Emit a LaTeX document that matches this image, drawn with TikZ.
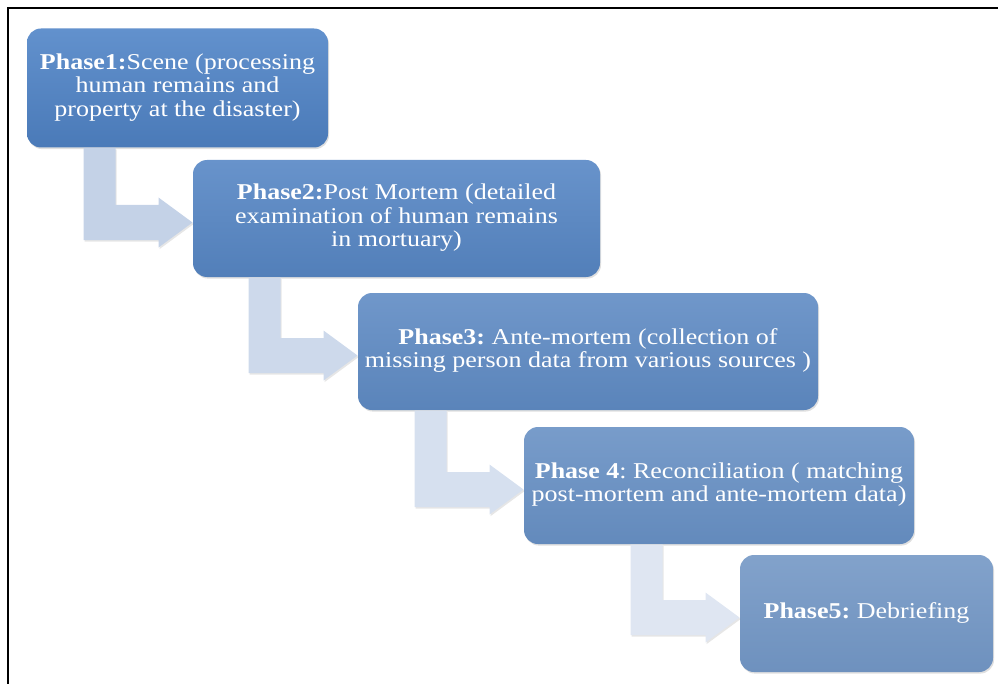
\documentclass[tikz,border=0pt]{standalone}
\usepackage{fontspec}
\usepackage{graphicx}
\setmainfont{Liberation Serif}
\usetikzlibrary{calc,shadows}
\frenchspacing

\definecolor{phAtop}{RGB}{98,145,205}
\definecolor{phAbot}{RGB}{74,122,184}
\definecolor{phBtop}{RGB}{104,147,203}
\definecolor{phBbot}{RGB}{82,127,185}
\definecolor{phCtop}{RGB}{112,151,202}
\definecolor{phCbot}{RGB}{90,132,186}
\definecolor{phDtop}{RGB}{120,156,202}
\definecolor{phDbot}{RGB}{99,138,188}
\definecolor{phEtop}{RGB}{130,162,203}
\definecolor{phEbot}{RGB}{110,145,190}
\definecolor{arA}{RGB}{196,210,231}
\definecolor{arB}{RGB}{205,217,235}
\definecolor{arC}{RGB}{214,224,239}
\definecolor{arD}{RGB}{223,230,242}

% text is a little wider than tall in the source figure
\newcommand{\phasetext}[1]{\scalebox{1}[0.87]{\begin{tabular}{@{}c@{}}#1\end{tabular}}}

\tikzset{every picture/.style={line width=0.75pt}}
\tikzset{
  phasebox/.style={draw=none, rounded corners=10.5pt, inner sep=0pt, align=center,
    text=white, font=\fontsize{19.5}{20.2}\selectfont, minimum height=87.75pt,
    drop shadow={opacity=0.25, shadow xshift=0.8pt, shadow yshift=-1.2pt}},
  bentarrow/.style={drop shadow={opacity=0.2, shadow xshift=0.8pt, shadow yshift=-1.2pt}}
}

\begin{document}
\begin{tikzpicture}[x=0.75pt,y=0.75pt,yscale=-1,xscale=1]
\useasboundingbox (0,0) rectangle (998,684);

% Frame
\draw [line width=1.9pt] (8,684) -- (8,8) -- (998,8);

% Text Node
\node [phasebox, top color=phAtop, bottom color=phAbot, minimum width=225.75pt, minimum height=89.25pt] (ph1) at (177.5,88)
  {\phasetext{\textbf{Phase1:}Scene (processing\\human remains and\\property at the disaster)}};
% Text Node
\node [phasebox, top color=phBtop, bottom color=phBbot, minimum width=305.25pt] (ph2) at (396.5,218.5)
  {\phasetext{\textbf{Phase2:}Post Mortem (detailed\\examination of human remains\\in mortuary)}};
% Text Node
\node [phasebox, top color=phCtop, bottom color=phCbot, minimum width=345pt] (ph3) at (588,351.5)
  {\phasetext{\textbf{Phase3:} Ante-mortem (collection of\\missing person data from various sources )}};
% Text Node
\node [phasebox, top color=phDtop, bottom color=phDbot, minimum width=292.5pt] (ph4) at (719,485.5)
  {\phasetext{\textbf{Phase 4}: Reconciliation ( matching\\post-mortem and ante-mortem data)}};
% Text Node
\node [phasebox, top color=phEtop, bottom color=phEbot, minimum width=189.75pt] (ph5) at (866.5,613.5)
  {\phasetext{\textbf{Phase5:} Debriefing}};

% Connection
\foreach \a/\b/\c in {ph1/ph2/arA, ph2/ph3/arB, ph3/ph4/arC, ph4/ph5/arD}{
  \coordinate (tip) at ($(\b.west)+(0,4)$);
  \coordinate (knee) at ($(tip)+(-77,0)$);
  \fill [bentarrow, fill=\c] (tip) -- ++(-34,-25) -- ++(0,7.5) -- ($(tip)+(-77,-17.5)$)
    -- (knee |- \a.south) -- ++(-32,0) -- ($(tip)+(-109,17.5)$) -- ($(tip)+(-34,17.5)$)
    -- ++(0,7.5) -- cycle;
}

\end{tikzpicture}
\end{document}
